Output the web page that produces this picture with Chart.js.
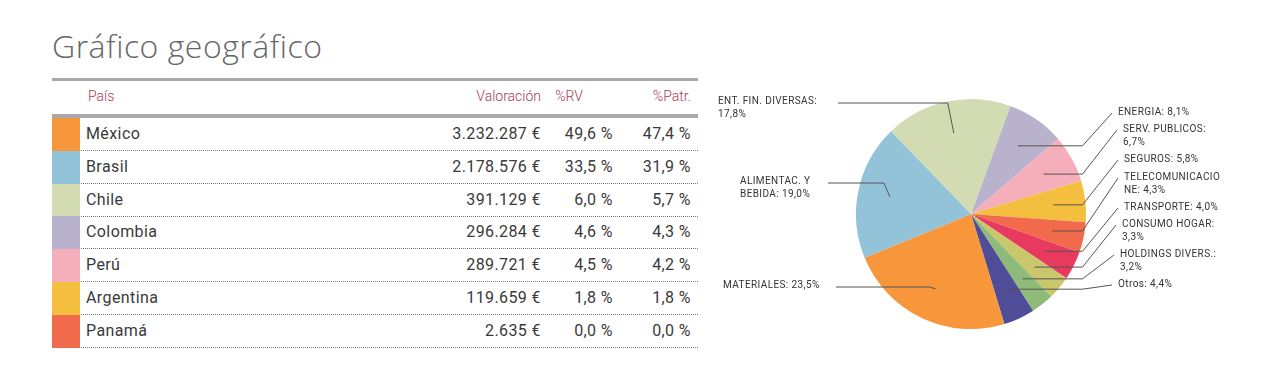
<!DOCTYPE html>
<html>
<head>
<meta charset="utf-8">
<script src="https://cdn.jsdelivr.net/npm/chart.js@4.4.1/dist/chart.umd.min.js"></script>
<style>
  body { margin: 0; width: 1285px; height: 367px; background: #fff; position: relative; overflow: hidden; font-family: Roboto, sans-serif; }
  .title { position: absolute; left: 52px; top: 24px; font-family: "Open Sans", sans-serif; font-weight: 300; font-size: 32px; color: #666; letter-spacing: 0.5px; }
  .bar { position: absolute; left: 52px; width: 646px; background: #a9a9a9; }
  .head { position: absolute; top: 88px; font-size: 14px; color: #a83a55; font-weight: 300; }
  .row { position: absolute; left: 52px; width: 646px; height: 32px; border-bottom: 1px dotted #777; }
  .sw { position: absolute; left: 0; top: 0; width: 28px; height: 33px; }
  .cell { position: absolute; top: 6px; font-size: 16px; color: #3a3a3a; letter-spacing: 0.4px; }
  #pieWrap { position: absolute; left: 700px; top: 0; width: 585px; height: 367px; }
</style>
</head>
<body>
<div class="title">Gráfico geográfico</div>
<div class="bar" style="top:78px;height:3px"></div>
<div class="head" style="left:88px">País</div>
<div class="head" style="right:744px">Valoración</div>
<div class="head" style="right:702px">%RV</div>
<div class="head" style="right:594px">%Patr.</div>
<div class="bar" style="top:114px;height:4px"></div>
<div id="table"></div>
<div id="pieWrap"><canvas id="pie" width="585" height="367"></canvas></div>

<script>
// table data
const countries = ['México', 'Brasil', 'Chile', 'Colombia', 'Perú', 'Argentina', 'Panamá'];
const valoracion = ['3.232.287 €', '2.178.576 €', '391.129 €', '296.284 €', '289.721 €', '119.659 €', '2.635 €'];
const pctRV = ['49,6 %', '33,5 %', '6,0 %', '4,6 %', '4,5 %', '1,8 %', '0,0 %'];
const pctPatr = ['47,4 %', '31,9 %', '5,7 %', '4,3 %', '4,2 %', '1,8 %', '0,0 %'];
const countryColors = ['#f7963b', '#93c3d8', '#d3dbb3', '#b8b2cc', '#f5afba', '#f4bf3f', '#f26a4c'];

// pie data (clockwise from Energia)
const sectors = ['ENERGIA: 8,1%', 'SERV. PUBLICOS:\n6,7%', 'SEGUROS: 5,8%', 'TELECOMUNICACIO\nNE: 4,3%',
  'TRANSPORTE: 4,0%', 'CONSUMO HOGAR:\n3,3%', 'HOLDINGS DIVERS.:\n3,2%', 'Otros: 4,4%',
  'MATERIALES: 23,5%', 'ALIMENTAC. Y\nBEBIDA: 19,0%', 'ENT. FIN. DIVERSAS:\n17,8%'];
const sectorValues = [8.1, 6.7, 5.8, 4.3, 4.0, 3.3, 3.2, 4.4, 23.5, 19.0, 17.8];
const sectorColors = ['#b8b2cc', '#f5afba', '#f4bf3f', '#f26a4c', '#e8395f', '#c9c66b',
  '#8fbb7a', '#4f4c98', '#f7963b', '#93c3d8', '#d3dbb3'];

// label placement (canvas coords): side, text x, first line y
const labelLayout = [
  { side: 'r', x: 418, y: 112 }, { side: 'r', x: 423, y: 129 }, { side: 'r', x: 424, y: 159 },
  { side: 'r', x: 424, y: 177 }, { side: 'r', x: 424, y: 207 }, { side: 'r', x: 422, y: 224 },
  { side: 'r', x: 420, y: 254 }, { side: 'r', x: 418, y: 284 },
  { side: 'l', x: 23, y: 285, end: 136 }, { side: 'l', x: 40, y: 181, end: 128 },
  { side: 'l', x: 18, y: 101, end: 138 }
];

// build table rows
const table = document.getElementById('table');
countries.forEach((c, i) => {
  const row = document.createElement('div');
  row.className = 'row';
  row.style.top = (118 + i * 32.8) + 'px';
  row.innerHTML =
    `<div class="sw" style="background:${countryColors[i]}"></div>` +
    `<div class="cell" style="left:34px">${c}</div>` +
    `<div class="cell" style="right:157px">${valoracion[i]}</div>` +
    `<div class="cell" style="right:85px">${pctRV[i]}</div>` +
    `<div class="cell" style="right:7px">${pctPatr[i]}</div>`;
  table.appendChild(row);
});

const leaderLabels = {
  id: 'leaderLabels',
  afterDatasetsDraw(chart) {
    const ctx = chart.ctx;
    const meta = chart.getDatasetMeta(0);
    ctx.save();
    ctx.font = '10px Roboto';
    ctx.letterSpacing = '0.4px';
    ctx.fillStyle = '#333';
    ctx.strokeStyle = '#555';
    ctx.lineWidth = 1;
    ctx.textBaseline = 'middle';
    meta.data.forEach((arc, i) => {
      const p = arc.getProps(['x', 'y', 'startAngle', 'endAngle', 'outerRadius'], true);
      const mid = (p.startAngle + p.endAngle) / 2;
      const ax = p.x + Math.cos(mid) * p.outerRadius * 0.72;
      const ay = p.y + Math.sin(mid) * p.outerRadius * 0.72;
      const lay = labelLayout[i];
      const lines = sectors[i].split('\n');
      ctx.beginPath();
      ctx.moveTo(ax, ay);
      if (lay.side === 'r') {
        const ex = p.x + p.outerRadius * 0.97;
        ctx.lineTo(Math.max(ex, ax + 8), ay);
        ctx.lineTo(lay.x - 6, lay.y + 1);
      } else {
        ctx.lineTo(ax - 6, lay.y + 2);
        ctx.lineTo(lay.end, lay.y + 2);
      }
      ctx.stroke();
      lines.forEach((t, k) => ctx.fillText(t, lay.x, lay.y + k * 13.5));
    });
    ctx.restore();
  }
};

new Chart(document.getElementById('pie').getContext('2d'), {
  type: 'pie',
  data: {
    labels: sectors,
    datasets: [{
      data: sectorValues,
      backgroundColor: sectorColors,
      borderWidth: 0
    }]
  },
  options: {
    responsive: false,
    animation: false,
    rotation: 20,
    layout: { padding: { left: 156, right: 199, top: 99, bottom: 38 } },
    plugins: { legend: { display: false }, tooltip: { enabled: false } }
  },
  plugins: [leaderLabels]
});
</script>
</body>
</html>
